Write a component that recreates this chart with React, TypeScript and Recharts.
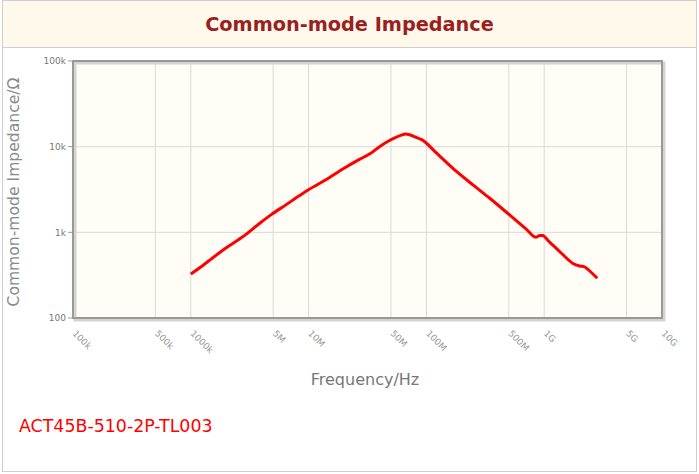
import React from 'react';
import { LineChart, Line, XAxis, YAxis, CartesianGrid, ReferenceArea } from 'recharts';

/* ── Data ────────────────────────────────────────────────────────────── */
const freqHz = [
  1.0e6, 1.25e6, 1.52e6, 2.0e6, 2.9e6, 3.8e6, 4.85e6, 6.5e6, 8e6, 9.9e6,
  14e6, 20e6, 27e6, 33.7e6, 40e6, 46.6e6, 55e6, 62e6, 66e6, 72e6,
  80e6, 92e6, 120e6, 181e6, 250e6, 345e6, 508e6, 700e6, 853e6, 920e6,
  971e6, 1.1e9, 1.4e9, 1.74e9, 2.0e9, 2.18e9, 2.4e9, 2.82e9,
];
const impedanceOhm = [
  327, 405, 499, 660, 933, 1260, 1620, 2120, 2580, 3125,
  4100, 5600, 7100, 8370, 10000, 11400, 12800, 13700, 14100, 13800,
  13000, 12000, 8600, 5100, 3550, 2500, 1600, 1100, 877, 920,
  916, 780, 570, 436, 405, 398, 360, 291,
];

const xTicks = [1e5, 5e5, 1e6, 5e6, 1e7, 5e7, 1e8, 5e8, 1e9, 5e9, 1e10];
const xTickLabels = ['100k', '500k', '1000k', '5M', '10M', '50M', '100M', '500M', '1G', '5G', '10G'];
const yTicks = [100, 1000, 10000, 100000];
const yTickLabels = ['100', '1k', '10k', '100k'];

const data = freqHz.map((f, i) => ({ f, z: impedanceOhm[i] }));

const FONT = '"DejaVu Sans", sans-serif';

/* ── Rotated x tick ──────────────────────────────────────────────────── */
// eslint-disable-next-line @typescript-eslint/no-explicit-any
function XTick(props: any) {
  const { x, y, payload } = props;
  const idx = xTicks.indexOf(payload.value);
  return (
    <text
      transform={`translate(${x - 1},${y + 8}) rotate(45)`}
      textAnchor="start"
      fontSize={9}
      fill="#999"
      fontFamily={FONT}
    >
      {xTickLabels[idx]}
    </text>
  );
}

/* ── Plot frame with a soft shadow ───────────────────────────────────── */
// eslint-disable-next-line @typescript-eslint/no-explicit-any
function Frame(props: any) {
  const { x, y, width, height } = props;
  return (
    <g>
      <rect x={x + 2} y={y + 2} width={width} height={height} fill="none" stroke="#d4d4d4" strokeWidth={3} />
      <rect x={x} y={y} width={width} height={height} fill="none" stroke="#999" strokeWidth={2} />
    </g>
  );
}

export default function App() {
  return (
    <div style={{ position: 'absolute', left: 0, top: 0, width: 699, height: 474, background: '#fff', fontFamily: FONT }}>
      <div
        style={{
          position: 'absolute', left: 2, top: 0, width: 695, height: 472,
          border: '1px solid #cfcfcf', boxSizing: 'border-box',
        }}
      />
      <div
        style={{
          position: 'absolute', left: 3, top: 1, width: 693, height: 46,
          background: '#FEF9EB', borderBottom: '1px solid #cfcfcf',
          textAlign: 'center', lineHeight: '48px',
          fontSize: 19.3, fontWeight: 'bold', color: '#9b1f22',
        }}
      >
        Common-mode Impedance
      </div>

      <div style={{ position: 'absolute', left: 0, top: 0 }}>
        <LineChart width={699} height={474} data={data} margin={{ top: 61, right: 37, left: 23, bottom: 116 }}>
          <CartesianGrid stroke="#d9d9d9" fill="#FFFDF5" />
          <XAxis
            dataKey="f"
            type="number"
            scale="log"
            domain={[1e5, 1e10]}
            ticks={xTicks}
            interval={0}
            allowDataOverflow
            axisLine={false}
            tickLine={false}
            tick={<XTick />}
            height={40}
          />
          <YAxis
            dataKey="z"
            type="number"
            scale="log"
            domain={[100, 100000]}
            ticks={yTicks}
            interval={0}
            allowDataOverflow
            axisLine={false}
            tickLine={{ stroke: '#999' }}
            tickSize={5}
            tickFormatter={(v: number) => yTickLabels[yTicks.indexOf(v)]}
            tick={{ fontSize: 9, fill: '#777', fontFamily: FONT }}
            width={50}
          />
          <ReferenceArea x1={1e5} x2={1e10} y1={100} y2={100000} shape={<Frame />} ifOverflow="visible" />
          <Line
            dataKey="z"
            type="monotone"
            stroke="#ff0000"
            strokeWidth={3}
            dot={false}
            isAnimationActive={false}
          />
        </LineChart>
      </div>

      <div
        style={{
          position: 'absolute', left: 14, top: 192, transform: 'translate(-50%, -50%) rotate(-90deg)',
          whiteSpace: 'nowrap', fontSize: 15.6, color: '#8a8a8a',
        }}
      >
        Common-mode Impedance/Ω
      </div>
      <div
        style={{
          position: 'absolute', left: 365, top: 379, transform: 'translate(-50%, -50%)',
          whiteSpace: 'nowrap', fontSize: 16, color: '#777',
        }}
      >
        Frequency/Hz
      </div>
      <div style={{ position: 'absolute', left: 19, top: 416, fontSize: 17.4, color: '#ff0000', whiteSpace: 'nowrap' }}>
        ACT45B-510-2P-TL003
      </div>
    </div>
  );
}
